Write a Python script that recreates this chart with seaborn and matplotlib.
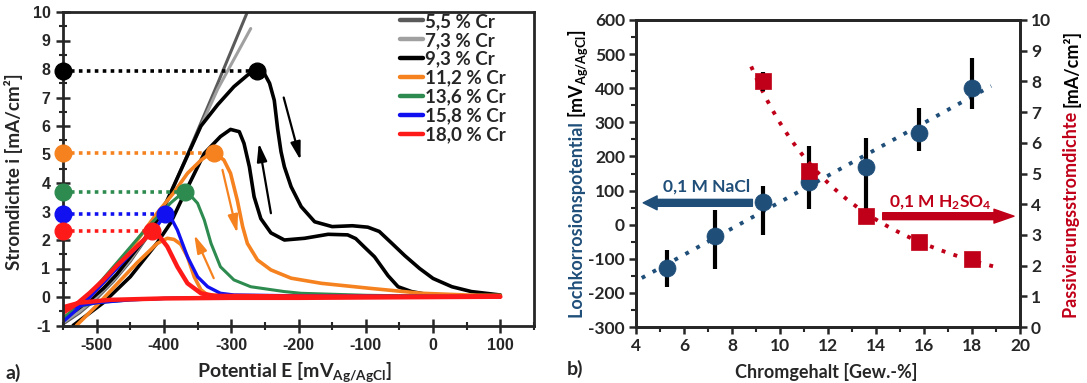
import numpy as np
import pandas as pd
import matplotlib
matplotlib.use("Agg")
import matplotlib.pyplot as plt
import seaborn as sns
from matplotlib.ticker import MultipleLocator

# ---------------- data: panel a (cyclic polarisation curves) ----------------
alloys = ["5,5 % Cr", "7,3 % Cr", "9,3 % Cr", "11,2 % Cr", "13,6 % Cr", "15,8 % Cr", "18,0 % Cr"]

e_55 = [-550, -525, -500, -475, -450, -425, -400, -365, -320, -276]
i_55 = [-0.95, -0.55, -0.05, 0.55, 1.25, 2.1, 3.1, 5.0, 7.5, 10.0]

e_73 = [-550, -525, -500, -475, -450, -425, -400, -365, -320, -271]
i_73 = [-0.9, -0.5, 0.0, 0.6, 1.3, 2.15, 3.1, 4.95, 7.3, 9.42]

e_93 = [-550, -530, -510, -490, -470, -450, -430, -410, -395, -370, -345, -320, -296, -275, -262,
        -251, -243, -236, -231, -226, -221, -211, -196, -176, -150, -120, -97, -80, -62, -42, -20, 0, 28, 57, 100,
        50, 0, -32, -52, -67, -87, -102, -115, -127, -156, -191, -221, -241, -256, -266, -273, -281, -288, -301,
        -316, -340, -370, -390, -410, -450, -490, -535]
i_93 = [-0.75, -0.45, -0.1, 0.3, 0.8, 1.4, 2.0, 2.7, 3.4, 4.7, 6.0, 6.75, 7.38, 7.8, 7.93,
        7.85, 7.5, 6.9, 5.9, 5.1, 4.57, 3.87, 3.17, 2.64, 2.47, 2.5, 2.45, 2.3, 1.9, 1.45, 1.0, 0.65, 0.36, 0.19, 0.07,
        0.03, 0.05, 0.19, 0.36, 0.75, 1.41, 1.75, 2.05, 2.18, 2.2, 2.06, 2.0, 2.25, 2.75, 3.52, 4.57, 5.39, 5.8, 5.88,
        5.63, 5.04, 3.6, 2.6, 1.9, 0.71, -0.2, -1.0]

e_112 = [-550, -530, -510, -490, -470, -450, -430, -410, -386, -365, -345, -335, -325, -311, -301, -291, -283,
         -276, -261, -241, -211, -166, -92, -17, 50, 100,
         0, -200, -300, -335, -345, -355, -365, -375, -385, -395, -410, -440, -470, -500, -530]
i_112 = [-0.75, -0.4, 0.0, 0.5, 1.05, 1.65, 2.3, 2.95, 3.64, 4.34, 4.8, 4.97, 5.05, 4.81, 4.34, 3.4, 2.47,
         1.88, 1.3, 0.95, 0.66, 0.48, 0.3, 0.13, 0.07, 0.05,
         0.02, 0.03, 0.05, 0.07, 0.25, 0.71, 1.41, 1.85, 2.02, 2.06, 1.88, 1.2, 0.45, -0.3, -1.0]

e_136 = [-550, -530, -510, -490, -470, -450, -430, -410, -390, -375, -369, -360, -350, -340, -330, -316,
         -296, -271, -221, -196, -100, 0, 100,
         -300, -400, -450, -500, -550]
i_136 = [-0.75, -0.35, 0.1, 0.65, 1.2, 1.75, 2.3, 2.8, 3.3, 3.6, 3.66, 3.55, 3.29, 2.7, 1.88, 1.06,
         0.6, 0.36, 0.19, 0.13, 0.06, 0.03, 0.02,
         0.0, -0.05, -0.1, -0.2, -0.45]

e_158 = [-550, -530, -510, -490, -470, -450, -430, -410, -398, -390, -380, -365, -350, -335, -316, -296,
         -200, 0, 100,
         -300, -400, -450, -500, -530, -550]
i_158 = [-0.87, -0.45, 0.0, 0.5, 1.0, 1.5, 2.0, 2.5, 2.88, 2.8, 2.35, 1.41, 0.71, 0.36, 0.13, 0.07,
         0.04, 0.02, 0.01,
         -0.01, -0.05, -0.1, -0.2, -0.32, -0.46]

e_180 = [-550, -530, -510, -490, -470, -450, -430, -418, -410, -395, -380, -365, -345, -325, -200, 100,
         -200, -300, -400, -480, -525, -550]
i_180 = [-0.55, -0.25, 0.15, 0.6, 1.1, 1.55, 2.0, 2.3, 2.23, 1.77, 1.06, 0.48, 0.13, 0.04, 0.02, 0.01,
         -0.03, -0.03, -0.05, -0.1, -0.2, -0.36]

# peak (passivation) current densities
peak_e = [-262, -325, -369, -398, -418]
peak_i = [7.93, 5.05, 3.7, 2.9, 2.3]

# ---------------- data: panel b ----------------
cr = [5.3, 7.3, 9.3, 11.2, 13.6, 15.8, 18.0]
e_pit = [-128, -33, 65, 125, 170, 270, 401]
e_pit_lo = [55, 98, 94, 80, 125, 54, 62]
e_pit_hi = [55, 75, 48, 105, 83, 71, 89]

cr_pass = [9.3, 11.2, 13.6, 15.8, 18.0]
i_pass = [8.0, 5.09, 3.62, 2.77, 2.23]
i_pass_err = [0.3, 0.25, 0.1, 0.1, 0.1]

# ---------------- style ----------------
sns.set_theme(style="ticks")
plt.rcParams["font.family"] = ["Lato", "DejaVu Sans"]
plt.rcParams["font.weight"] = "bold"
plt.rcParams["axes.unicode_minus"] = False
plt.rcParams["mathtext.fontset"] = "custom"
plt.rcParams["mathtext.rm"] = "Lato:bold"
plt.rcParams["mathtext.it"] = "Lato:bold"
plt.rcParams["mathtext.bf"] = "Lato:bold"

colors = ["#5a5a5a", "#a0a0a0", "#000000", "#f5821f", "#2e8b50", "#1010f0", "#ff1a1a"]
widths = [2.2, 2.2, 2.6, 2.6, 2.2, 2.4, 3.2]
navy = "#1f4e79"
dred = "#c00018"

fig = plt.figure(figsize=(10.87, 3.83), dpi=100)
W, H = 1087, 383

# ================= panel a =================
ax = fig.add_axes([63 / W, 1 - 325.5 / H, (534 - 63) / W, (325.5 - 12) / H])

curves = [(e_55, i_55), (e_73, i_73), (e_93, i_93), (e_112, i_112),
          (e_136, i_136), (e_158, i_158), (e_180, i_180)]
for (e, i), name, c, lw in zip(curves, alloys, colors, widths):
    df = pd.DataFrame({"E": e, "i": i})
    sns.lineplot(data=df, x="E", y="i", sort=False, estimator=None, color=c, lw=lw, ax=ax, label=name)

# dotted guides + markers at the passivation peaks
for pe, pi, c in zip(peak_e, peak_i, colors[2:]):
    ax.plot([-550, pe], [pi, pi], ls=(0, (1, 1.2)), color=c, lw=2.6, zorder=4)
    ax.plot([-550, pe], [pi, pi], "o", color=c, ms=12, zorder=5, clip_on=False)

# scan direction arrows
def arr(a, tail, head, c):
    a.annotate("", xy=head, xytext=tail,
               arrowprops=dict(arrowstyle="-|>,head_length=0.9,head_width=0.25", color=c, lw=1.6,
                               mutation_scale=12, shrinkA=0, shrinkB=0))

arr(ax, (-222, 7.0), (-197, 4.8), "black")
arr(ax, (-241, 2.94), (-259, 5.4), "black")
arr(ax, (-313, 4.46), (-291, 2.24), colors[3])
arr(ax, (-326, 0.66), (-355, 2.18), colors[3])

ax.set_xlim(-550, 150)
ax.set_ylim(-1, 10)
ax.xaxis.set_major_locator(MultipleLocator(100))
ax.xaxis.set_minor_locator(MultipleLocator(50))
ax.yaxis.set_major_locator(MultipleLocator(1))
ax.yaxis.set_minor_locator(MultipleLocator(0.5))
ax.set_xticks(range(-500, 101, 100))
ax.tick_params(which="major", direction="inout", length=10, width=1.8, labelsize=11.5, pad=4,
               top=False, right=False)
ax.tick_params(which="minor", direction="inout", length=6, width=1.5, top=False, right=False)
for lab in ax.get_xticklabels() + ax.get_yticklabels():
    lab.set_fontfamily(["Liberation Sans", "DejaVu Sans"])
    lab.set_fontweight("bold")
for s in ax.spines.values():
    s.set_linewidth(2.0)
    s.set_visible(True)
ax.set_xlabel("")
ax.set_ylabel("")

leg = ax.legend(loc="upper left", bbox_to_anchor=(0.715, 0.997), frameon=False, handlelength=1.25,
                handletextpad=0.12, labelspacing=0.1, borderaxespad=0, borderpad=0,
                prop={"family": "Lato", "weight": "bold", "size": 13.5})
for h in leg.get_lines():
    h.set_linewidth(3.2)

fig.text(14 / W, 1 - 172 / H, "Stromdichte i [mA/cm²]", rotation=90, ha="center", va="center", fontsize=13.5)
fig.text(294 / W, 1 - 372 / H, r"Potential E [mV$_\mathrm{Ag/AgCl}$]", ha="center", va="center", fontsize=14)
fig.text(5 / W, 1 - 373 / H, "a)", ha="left", va="center", fontsize=14)

# ================= panel b =================
bx = fig.add_axes([636 / W, 1 - 327 / H, (1020 - 636) / W, (327 - 20) / H])
rx = bx.twinx()

fit1 = np.polyfit(cr, e_pit, 1)
xf1 = np.array([4.24, 18.8])
bx.plot(xf1, np.polyval(fit1, xf1), ls=(0, (1, 2.2)), color=navy, lw=2.8, zorder=1)
bx.errorbar(cr, e_pit, yerr=[e_pit_lo, e_pit_hi], fmt="none", ecolor="black", elinewidth=3, capsize=0, zorder=2)
sns.scatterplot(x=cr, y=e_pit, color=navy, s=150, edgecolor=navy, linewidth=0.5, ax=bx, zorder=3)

# power-law trend line for the passive current density
bfit = np.polyfit(np.log(cr_pass), np.log(i_pass), 1)
xf2 = np.linspace(8.8, 18.95, 60)
rx.plot(xf2, np.exp(np.polyval(bfit, np.log(xf2))), ls=(0, (1, 2.2)), color=dred, lw=2.8, zorder=1)
rx.errorbar(cr_pass, i_pass, yerr=i_pass_err, fmt="none", ecolor="black", elinewidth=3, capsize=0, zorder=2)
sns.scatterplot(x=cr_pass, y=i_pass, color=dred, marker="s", s=130, edgecolor=dred, linewidth=0.5, ax=rx, zorder=3)

bx.set_xlim(4, 20)
bx.set_ylim(-300, 600)
rx.set_ylim(0, 10)
bx.xaxis.set_major_locator(MultipleLocator(2))
bx.xaxis.set_minor_locator(MultipleLocator(1))
bx.yaxis.set_major_locator(MultipleLocator(100))
bx.yaxis.set_minor_locator(MultipleLocator(50))
rx.yaxis.set_major_locator(MultipleLocator(1))
bx.tick_params(which="major", direction="out", length=5, width=1.8, labelsize=12.5, pad=3)
bx.tick_params(which="minor", direction="out", length=3.5, width=1.5)
rx.tick_params(which="major", direction="out", length=5, width=1.8, labelsize=12.5, pad=3)
for a in (bx, rx):
    for s in a.spines.values():
        s.set_linewidth(2.0)
        s.set_visible(True)

bx.annotate("", xy=(4.3, 64), xytext=(8.85, 64),
            arrowprops=dict(arrowstyle="simple,head_length=0.5,head_width=0.5,tail_width=0.25",
                            color=navy, mutation_scale=20, shrinkA=0, shrinkB=0))
bx.text(6.95, 112, "0,1 M NaCl", color=navy, ha="center", va="center", fontsize=12.5)
rx.annotate("", xy=(19.75, 3.61), xytext=(14.28, 3.61),
            arrowprops=dict(arrowstyle="simple,head_length=0.72,head_width=0.5,tail_width=0.25",
                            color=dred, mutation_scale=20, shrinkA=0, shrinkB=0))
rx.text(16.7, 4.06, r"0,1 M H$_\mathrm{2}$SO$_\mathrm{4}$", color=dred, ha="center", va="center", fontsize=12.5)

fig.text(826 / W, 1 - 372 / H, "Chromgehalt [Gew.-%]", ha="center", va="center", fontsize=13)
fig.text(567 / W, 1 - 369 / H, "b)", ha="left", va="center", fontsize=14)


def vlabel(x, y0, parts, size=13):
    # stack coloured pieces of a rotated label from bottom to top
    fig.canvas.draw()
    r = fig.canvas.get_renderer()
    y = y0
    for txt, c in parts:
        t = fig.text(x, y, txt, rotation=90, ha="center", va="bottom", color=c, fontsize=size)
        y += t.get_window_extent(r).height / (H)


vlabel(578 / W, 1 - 318 / H, [("Lochkorrosionspotential ", navy), (r"[mV$_\mathrm{Ag/AgCl}$]", "black")])
vlabel(1071 / W, 1 - 318 / H, [("Passivierungsstromdichte ", dred), ("[mA/cm²]", "black")])

fig.savefig("out.png", dpi=100)
